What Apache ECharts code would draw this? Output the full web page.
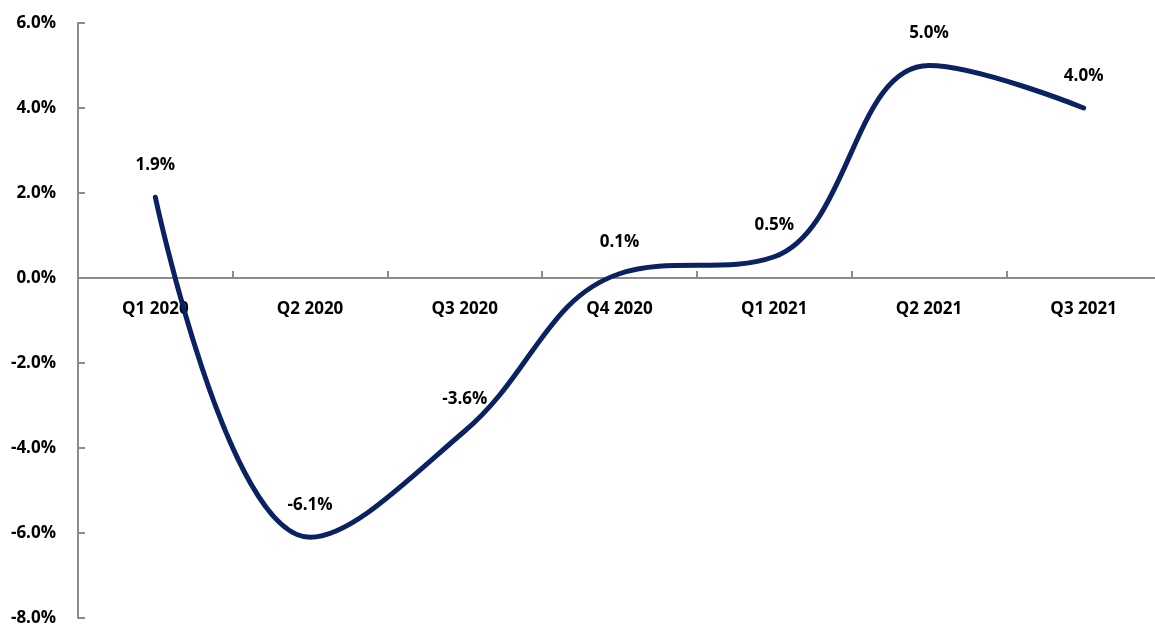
<!DOCTYPE html>
<html>
<head>
<meta charset="utf-8">
<script src="https://cdn.jsdelivr.net/npm/echarts@6/dist/echarts.min.js"></script>
<style>
html,body{margin:0;padding:0;background:#fff;}
#chart{width:1155px;height:628px;}
</style>
</head>
<body>
<div id="chart"></div>
<script>
const categories = ['Q1 2020','Q2 2020','Q3 2020','Q4 2020','Q1 2021','Q2 2021','Q3 2021'];
const growth = [1.9, -6.1, -3.6, 0.1, 0.5, 5.0, 4.0];
const yMin = -8, yMax = 6, yStep = 2;

const FONT = '"Open Sans", "Noto Sans", sans-serif';
const LINE_COLOR = '#0b2262';
const GRID_TOP = 23, GRID_H = 595;
// offset that lifts the x axis from the grid bottom to the zero line
const zeroOffset = -GRID_H * (0 - yMin) / (yMax - yMin);

const chart = echarts.init(document.getElementById('chart'));
chart.setOption({
  animation: false,
  backgroundColor: '#ffffff',
  grid: { left: 78, top: GRID_TOP, width: 1083, height: GRID_H, containLabel: false, outerBoundsMode: 'none' },
  xAxis: {
    type: 'category',
    data: categories,
    boundaryGap: true,
    position: 'bottom',
    offset: zeroOffset,
    axisLine: { show: true, onZero: false, lineStyle: { color: '#8c8c8c', width: 2 } },
    axisTick: { show: true, inside: true, length: 7, lineStyle: { color: '#8c8c8c', width: 2 } },
    axisLabel: { margin: 23, color: '#000', fontFamily: FONT, fontWeight: 'bold', fontSize: 17 },
    splitLine: { show: false }
  },
  yAxis: {
    type: 'value',
    min: yMin, max: yMax, interval: yStep,
    axisLine: { show: true, lineStyle: { color: '#8c8c8c', width: 2 } },
    axisTick: { show: true, inside: true, length: 7, lineStyle: { color: '#8c8c8c', width: 2 } },
    axisLabel: { margin: 22, color: '#000', fontFamily: FONT, fontWeight: 'bold', fontSize: 17,
      formatter: v => v.toFixed(1) + '%' },
    splitLine: { show: false }
  },
  series: [{
    type: 'line',
    data: growth,
    smooth: 0.4,
    symbol: 'circle',
    symbolSize: 3,
    showSymbol: true,
    itemStyle: { color: LINE_COLOR },
    lineStyle: { color: LINE_COLOR, width: 5, cap: 'round' },
    label: {
      show: true, position: 'top', distance: 22,
      color: '#000', fontFamily: FONT, fontWeight: 'bold', fontSize: 17,
      formatter: p => Number(p.value).toFixed(1) + '%'
    },
    labelLayout: { hideOverlap: false }
  }]
});
</script>
</body>
</html>
